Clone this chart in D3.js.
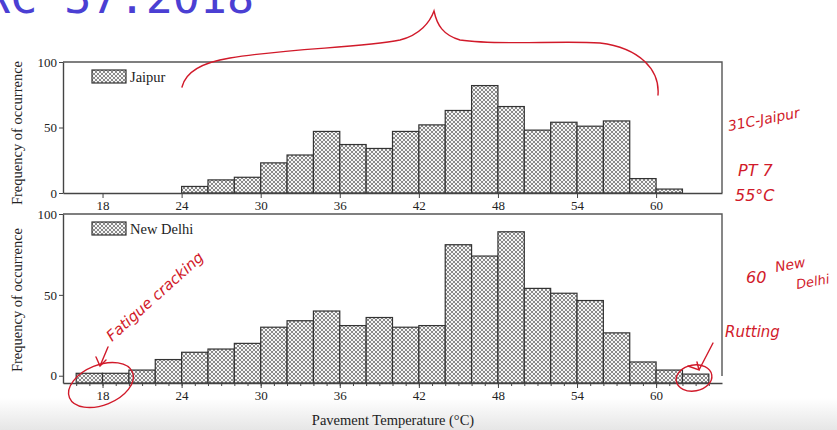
<!DOCTYPE html>
<html>
<head>
<meta charset="utf-8">
<script src="https://cdn.jsdelivr.net/npm/d3@7"></script>
<style>
  body { margin: 0; background: #fff; }
  svg { display: block; }
  .axis text { font-family: "Liberation Serif", serif; font-size: 13px; fill: #222; }
  .axis path, .axis line { stroke: #444; }
  .ink { fill: none; stroke: #d11a2a; stroke-width: 1.4; stroke-linecap: round; }
  .hand { font-family: "DejaVu Sans", sans-serif; font-style: italic; fill: #d11a2a; }
</style>
</head>
<body>
<div class="chart"></div>
<script>
'use strict';

// data (bin start temperature, 2 deg C bins)
const binWidth = 2;
const jaipurBins = [24, 26, 28, 30, 32, 34, 36, 38, 40, 42, 44, 46, 48, 50, 52, 54, 56, 58, 60];
const jaipurFreq = [5, 10, 12, 23, 29, 47, 37, 34, 47, 52, 63, 82, 66, 48, 54, 51, 55, 11, 3];
const delhiBins = [16, 18, 20, 22, 24, 26, 28, 30, 32, 34, 36, 38, 40, 42, 44, 46, 48, 50, 52, 54, 56, 58, 60, 62];
const delhiFreq = [1.5, 1.5, 3.5, 10, 14.5, 16.5, 20, 30, 34, 40, 31, 36, 30, 31, 81, 74, 89, 54, 51, 46.5, 26.5, 8.5, 3.5, 1];
const tempTicks = [18, 24, 30, 36, 42, 48, 54, 60];
const freqTicks = [0, 50, 100];

const W = 837, H = 430;
const left = 63, right = 722;

const svg = d3.select(".chart").append("svg")
  .attr("width", W)
  .attr("height", H);

const defs = svg.append("defs");

// crosshatch fill
const pat = defs.append("pattern")
  .attr("id", "hatch")
  .attr("patternUnits", "userSpaceOnUse")
  .attr("width", 4)
  .attr("height", 4);
pat.append("rect").attr("width", 4).attr("height", 4).attr("fill", "#f6f6f6");
pat.append("path")
  .attr("d", "M0,0 L4,4 M0,4 L4,0 M-1,1 L1,-1 M3,5 L5,3 M-1,3 L1,5 M3,-1 L5,1")
  .attr("stroke", "#666")
  .attr("stroke-width", 0.75);

// grey fade at the bottom of the slide
const grad = defs.append("linearGradient")
  .attr("id", "fade")
  .attr("x1", 0).attr("y1", 0).attr("x2", 0).attr("y2", 1);
grad.append("stop").attr("offset", "0%").attr("stop-color", "#ffffff");
grad.append("stop").attr("offset", "100%").attr("stop-color", "#e6e6e6");
svg.append("rect")
  .attr("x", 0).attr("y", 398)
  .attr("width", W).attr("height", 32)
  .attr("fill", "url(#fade)");

// slide title, cut by the top edge
svg.append("text")
  .attr("x", -44)
  .attr("y", 13)
  .attr("font-family", "DejaVu Sans Mono, monospace")
  .attr("font-size", 45)
  .attr("fill", "#4b3fd3")
  .text("IRC 37:2018");

const x = d3.scaleLinear().domain([15, 65]).range([left, right]);

function panel(opts) {
  const y = d3.scaleLinear().domain(opts.yDomain).range([opts.bottom, opts.top]);
  const g = svg.append("g");
  const base = opts.bottom;

  // bars
  g.selectAll("rect.bar")
    .data(opts.bins.map((b, i) => [b, opts.freq[i]]))
    .enter()
    .append("rect")
    .attr("class", "bar")
    .attr("x", d => x(d[0]))
    .attr("y", d => y(d[1]))
    .attr("width", d => x(d[0] + binWidth) - x(d[0]))
    .attr("height", d => base - y(d[1]))
    .attr("fill", "url(#hatch)")
    .attr("stroke", "#333")
    .attr("stroke-width", 1.2);

  // frame top + right
  g.append("path")
    .attr("d", `M${left},${opts.top} H${right} V${opts.rightEnd}`)
    .attr("fill", "none")
    .attr("stroke", "#555")
    .attr("stroke-width", 1.4);

  // axes
  g.append("g")
    .attr("class", "axis")
    .attr("transform", `translate(0,${base})`)
    .call(d3.axisBottom(x).tickValues(tempTicks).tickSize(5).tickSizeOuter(0).tickPadding(3))
    .call(a => a.select(".domain").attr("stroke-width", 1.4));

  if (opts.minor) {
    g.append("g")
      .attr("class", "axis")
      .attr("transform", `translate(0,${base})`)
      .call(d3.axisBottom(x).tickValues(d3.range(16, 65, 1)).tickSize(3).tickSizeOuter(0).tickFormat(""))
      .call(a => a.select(".domain").remove());
  }

  g.append("g")
    .attr("class", "axis")
    .attr("transform", `translate(${left},0)`)
    .call(d3.axisLeft(y).tickValues(freqTicks).tickSize(4).tickSizeOuter(0).tickPadding(2))
    .call(a => a.select(".domain").attr("stroke-width", 1.4));

  // y title
  svg.append("text")
    .attr("transform", `translate(22,${opts.titleY}) rotate(-90)`)
    .attr("text-anchor", "middle")
    .attr("font-family", "Liberation Serif, serif")
    .attr("font-size", 14.5)
    .attr("fill", "#222")
    .text("Frequency of occurrence");

  // legend
  g.append("rect")
    .attr("x", 92).attr("y", opts.top + 8)
    .attr("width", 34).attr("height", 13)
    .attr("fill", "url(#hatch)")
    .attr("stroke", "#333")
    .attr("stroke-width", 1.2);
  g.append("text")
    .attr("x", 130).attr("y", opts.top + 19.5)
    .attr("font-family", "Liberation Serif, serif")
    .attr("font-size", 14.5)
    .attr("fill", "#222")
    .text(opts.name);
}

panel({name: "Jaipur", bins: jaipurBins, freq: jaipurFreq, yDomain: [0, 100],
  top: 62, bottom: 193, rightEnd: 193, titleY: 133, minor: false});
panel({name: "New Delhi", bins: delhiBins, freq: delhiFreq, yDomain: [-4.5, 100],
  top: 214, bottom: 383, rightEnd: 376, titleY: 300, minor: true});

// x title
svg.append("text")
  .attr("x", 393).attr("y", 425)
  .attr("text-anchor", "middle")
  .attr("font-family", "Liberation Serif, serif")
  .attr("font-size", 14.5)
  .attr("fill", "#222")
  .text("Pavement Temperature (°C)");

// handwritten notes
svg.append("path")
  .attr("class", "ink")
  .attr("stroke", "#c2505c")
  .attr("d", "M182,87 C186,70 205,62 230,58 C290,48 360,48 400,40 C420,35 430,22 434,11 C437,25 443,35 460,40 C500,46 560,40 600,43 C640,48 660,70 658,95");

svg.append("ellipse")
  .attr("class", "ink")
  .attr("cx", 101).attr("cy", 385)
  .attr("rx", 34).attr("ry", 20)
  .attr("transform", "rotate(-22,101,385)");
svg.append("path").attr("class", "ink").attr("d", "M108,347 L100,366 M96,357 L100,366 L106,360");

svg.append("ellipse")
  .attr("class", "ink")
  .attr("cx", 694).attr("cy", 378)
  .attr("rx", 18).attr("ry", 13)
  .attr("transform", "rotate(-10,694,378)");
svg.append("path").attr("class", "ink").attr("d", "M713,343 L699,370 M688,366 L699,370 L697,362");

svg.append("text").attr("class", "hand")
  .attr("font-size", 15)
  .attr("transform", "translate(112,342) rotate(-42)")
  .text("Fatigue cracking");
svg.append("text").attr("class", "hand")
  .attr("font-size", 14)
  .attr("transform", "translate(729,131) rotate(-11)")
  .text("31C-Jaipur");
svg.append("text").attr("class", "hand")
  .attr("font-size", 16)
  .attr("x", 738).attr("y", 176)
  .text("PT 7");
svg.append("text").attr("class", "hand")
  .attr("font-size", 16)
  .attr("x", 735).attr("y", 201)
  .text("55°C");
svg.append("text").attr("class", "hand")
  .attr("font-size", 16)
  .attr("x", 746).attr("y", 283)
  .text("60");
svg.append("text").attr("class", "hand")
  .attr("font-size", 14)
  .attr("transform", "translate(776,272) rotate(-10)")
  .text("New");
svg.append("text").attr("class", "hand")
  .attr("font-size", 13)
  .attr("transform", "translate(797,289) rotate(-10)")
  .text("Delhi");
svg.append("text").attr("class", "hand")
  .attr("font-size", 15)
  .attr("x", 725).attr("y", 337)
  .text("Rutting");
</script>
</body>
</html>
